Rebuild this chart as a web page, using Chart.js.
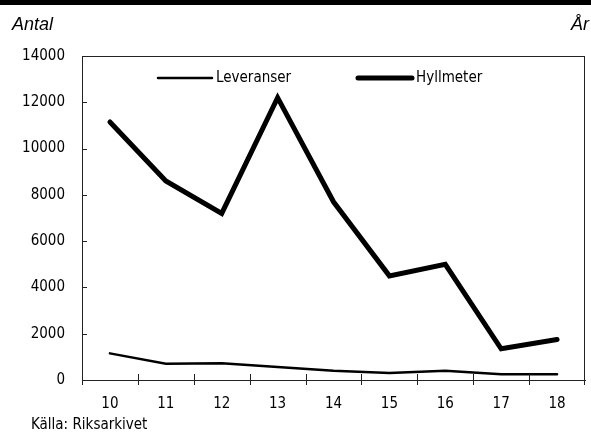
<!DOCTYPE html>
<html><head><meta charset="utf-8">
<script src="https://cdn.jsdelivr.net/npm/chart.js@4/dist/chart.umd.min.js"></script>
<style>
html,body{margin:0;padding:0;background:#fff;}
#wrap{position:relative;width:591px;height:437px;overflow:hidden;}
#bar{position:absolute;left:0;top:0;width:591px;height:5px;background:#000;}
.lbl{position:absolute;font-family:'Liberation Sans',Arial,sans-serif;font-style:italic;font-size:18px;color:#000;line-height:1;}
#src{position:absolute;left:31px;top:417px;font-family:'DejaVu Sans Condensed','DejaVu Sans',sans-serif;font-stretch:condensed;font-size:15px;line-height:1;color:#000;}
canvas{position:absolute;left:0;top:0;}
</style></head>
<body><div id="wrap">
<canvas id="c" width="591" height="437"></canvas>
<div id="bar"></div>
<div class="lbl" style="left:12px;top:15px">Antal</div>
<div class="lbl" style="right:2px;top:15px">År</div>
<div id="src">Källa: Riksarkivet</div>
</div>
<script>
const years = ['10','11','12','13','14','15','16','17','18'];
const leveranser = [1150, 700, 720, 560, 400, 300, 400, 250, 250];
const hyllmeter = [11150, 8600, 7200, 12200, 7700, 4500, 5000, 1350, 1750];
const yTickValues = [0, 2000, 4000, 6000, 8000, 10000, 12000, 14000];
const seriesNames = ['Leveranser', 'Hyllmeter'];

const FONT = "'DejaVu Sans Condensed', 'DejaVu Sans', sans-serif";
const FSIZE = 15;

const frame = {
  id: 'frame',
  afterDraw(chart) {
    const ctx = chart.ctx, a = chart.chartArea;
    const xs = chart.scales.x, ys = chart.scales.y;
    ctx.save();
    ctx.strokeStyle = '#222';
    ctx.lineWidth = 1;
    ctx.beginPath();
    ctx.moveTo(a.left, a.top + 0.5); ctx.lineTo(a.right, a.top + 0.5);
    ctx.moveTo(a.right - 0.5, a.top); ctx.lineTo(a.right - 0.5, a.bottom + 5);
    ys.ticks.forEach(t => {
      const y = Math.round(ys.getPixelForValue(t.value)) + 0.5;
      ctx.moveTo(a.left, y); ctx.lineTo(a.left + 5, y);
    });
    for (let i = 0; i < years.length - 1; i++) {
      const x = Math.round((xs.getPixelForValue(i) + xs.getPixelForValue(i + 1)) / 2) + 0.5;
      ctx.moveTo(x, a.bottom - 6); ctx.lineTo(x, a.bottom + 5);
    }
    ctx.moveTo(a.left + 0.5, a.bottom); ctx.lineTo(a.left + 0.5, a.bottom + 5);
    ctx.stroke();
    const pos = [158, 358];
    chart.data.datasets.forEach((ds, i) => {
      const x0 = pos[i], y = a.top + 22;
      ctx.strokeStyle = ds.borderColor;
      ctx.lineWidth = ds.borderWidth;
      ctx.lineCap = 'round';
      ctx.beginPath(); ctx.moveTo(x0, y); ctx.lineTo(x0 + 54, y); ctx.stroke();
      ctx.fillStyle = '#000';
      ctx.font = FSIZE + 'px ' + FONT;
      ctx.textBaseline = 'middle';
      ctx.textAlign = 'left';
      ctx.fillText(ds.label, x0 + 58, y);
    });
    ctx.restore();
  }
};

new Chart(document.getElementById('c'), {
  type: 'line',
  data: {
    labels: years,
    datasets: [
      { label: seriesNames[0], data: leveranser, borderColor: '#000', borderWidth: 2.5, pointRadius: 0, tension: 0, borderCapStyle: 'round' },
      { label: seriesNames[1], data: hyllmeter, borderColor: '#000', borderWidth: 5, pointRadius: 0, tension: 0, borderCapStyle: 'round' }
    ]
  },
  options: {
    responsive: false,
    animation: false,
    devicePixelRatio: 1,
    layout: { padding: { left: 0, right: 6, top: 56, bottom: 0 } },
    plugins: { legend: { display: false }, tooltip: { enabled: false } },
    scales: {
      x: {
        offset: true,
        grid: { display: false, drawTicks: false },
        border: { display: true, color: '#222', width: 1 },
        ticks: { color: '#000', font: { family: FONT, size: FSIZE }, padding: 15, maxRotation: 0 },
        afterFit(s) { s.height = 57; }
      },
      y: {
        min: 0, max: 14000,
        afterBuildTicks(s) { s.ticks = yTickValues.map(v => ({ value: v })); },
        grid: { display: false, drawTicks: false },
        border: { display: true, color: '#222', width: 1 },
        ticks: { color: '#000', font: { family: FONT, size: FSIZE }, padding: 17, callback: v => String(v) },
        afterFit(s) { s.width = 82; }
      }
    }
  },
  plugins: [frame]
});
</script>
</body></html>
